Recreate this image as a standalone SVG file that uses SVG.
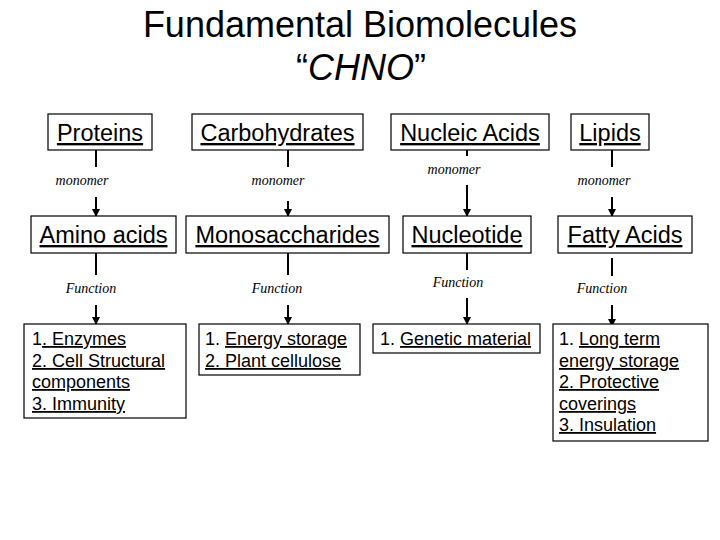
<svg xmlns="http://www.w3.org/2000/svg" width="720" height="540" viewBox="0 0 720 540">
<style>
.box{fill:#fff;stroke:#000;stroke-width:1.2}
.hd{font-family:"Liberation Sans",Arial,sans-serif;font-size:23.5px;fill:#000;text-anchor:middle;text-decoration:underline}
.ttl{font-family:"Liberation Sans",Arial,sans-serif;font-size:36px;fill:#000;text-anchor:middle}
.lbl{font-family:"Liberation Serif","Times New Roman",serif;font-style:italic;font-size:14px;fill:#000;text-anchor:middle}
.fn{font-family:"Liberation Sans",Arial,sans-serif;font-size:18px;fill:#000}
.u{text-decoration:underline}
.ln{stroke:#000;stroke-width:2;fill:none}
.ar{stroke:#000;stroke-width:2;fill:none;marker-end:url(#ah)}
</style>
<defs>
<marker id="ah" markerUnits="userSpaceOnUse" markerWidth="8" markerHeight="8" refX="7" refY="4" orient="auto">
<path d="M0,0 L8,4 L0,8 z" fill="#000"/>
</marker>
</defs>
<rect width="720" height="540" fill="#fff"/>
<g id="title">
<text class="ttl" x="360" y="37">Fundamental Biomolecules</text>
<text class="ttl" x="361" y="80">“<tspan font-style="italic">CHNO</tspan>”</text>
</g>
<g id="connectors">
<line class="ln" x1="96" y1="150" x2="96" y2="167"/>
<line class="ar" x1="96" y1="197" x2="96" y2="216"/>
<line class="ln" x1="288" y1="150" x2="288" y2="167"/>
<line class="ar" x1="288" y1="201" x2="288" y2="216"/>
<line class="ln" x1="467" y1="150" x2="467" y2="156"/>
<line class="ar" x1="467" y1="185" x2="467" y2="216"/>
<line class="ln" x1="612" y1="150" x2="612" y2="167"/>
<line class="ar" x1="612" y1="197" x2="612" y2="216"/>
<line class="ln" x1="96" y1="253" x2="96" y2="275"/>
<line class="ar" x1="96" y1="305" x2="96" y2="324"/>
<line class="ln" x1="288" y1="253" x2="288" y2="275"/>
<line class="ar" x1="288" y1="305" x2="288" y2="324"/>
<line class="ln" x1="467" y1="253" x2="467" y2="270"/>
<line class="ar" x1="467" y1="298" x2="467" y2="324"/>
<line class="ln" x1="612" y1="258" x2="612" y2="276"/>
<line class="ar" x1="612" y1="305" x2="612" y2="326"/>
<text class="lbl" x="82" y="185">monomer</text>
<text class="lbl" x="278" y="185">monomer</text>
<text class="lbl" x="454" y="174">monomer</text>
<text class="lbl" x="604" y="185">monomer</text>
<text class="lbl" x="91" y="293">Function</text>
<text class="lbl" x="277" y="293">Function</text>
<text class="lbl" x="458" y="287">Function</text>
<text class="lbl" x="602" y="293">Function</text>
</g>
<g id="proteins"><rect class="box" x="48" y="114" width="104" height="36"/><text class="hd" x="100" y="141">Proteins</text></g>
<g id="carbohydrates"><rect class="box" x="192" y="114" width="171" height="36"/><text class="hd" x="277.5" y="141">Carbohydrates</text></g>
<g id="nucleic-acids"><rect class="box" x="391" y="114" width="158" height="36"/><text class="hd" x="470" y="141">Nucleic Acids</text></g>
<g id="lipids"><rect class="box" x="571" y="114" width="78" height="36"/><text class="hd" x="610" y="141">Lipids</text></g>
<g id="amino-acids"><rect class="box" x="31" y="216" width="145" height="37"/><text class="hd" x="103.5" y="243">Amino acids</text></g>
<g id="monosaccharides"><rect class="box" x="186" y="216" width="203" height="37"/><text class="hd" x="287.5" y="243">Monosaccharides</text></g>
<g id="nucleotide"><rect class="box" x="403" y="216" width="128" height="37"/><text class="hd" x="467" y="243">Nucleotide</text></g>
<g id="fatty-acids"><rect class="box" x="558" y="216" width="134" height="37"/><text class="hd" x="625" y="243">Fatty Acids</text></g>
<g id="protein-functions"><rect class="box" x="24" y="324" width="162" height="94"/>
<text class="fn" x="32" y="345">1<tspan class="u">. Enzymes</tspan></text>
<text class="fn u" x="32" y="367">2. Cell Structural</text>
<text class="fn u" x="32" y="388">components</text>
<text class="fn u" x="32" y="410">3. Immunity</text>
</g>
<g id="carbohydrate-functions"><rect class="box" x="199" y="324" width="161" height="51"/>
<text class="fn" x="205" y="345">1. <tspan class="u">Energy storage</tspan></text>
<text class="fn u" x="205" y="367">2. Plant cellulose</text>
</g>
<g id="nucleic-functions"><rect class="box" x="373" y="324" width="167" height="29"/>
<text class="fn" x="380" y="345">1. <tspan class="u">Genetic material</tspan></text>
</g>
<g id="lipid-functions"><rect class="box" x="553" y="324" width="155" height="117"/>
<text class="fn" x="559" y="345">1. <tspan class="u">Long term</tspan></text>
<text class="fn u" x="559" y="367">energy storage</text>
<text class="fn u" x="559" y="388">2. Protective</text>
<text class="fn u" x="559" y="410">coverings</text>
<text class="fn u" x="559" y="431">3. Insulation</text>
</g>
</svg>
